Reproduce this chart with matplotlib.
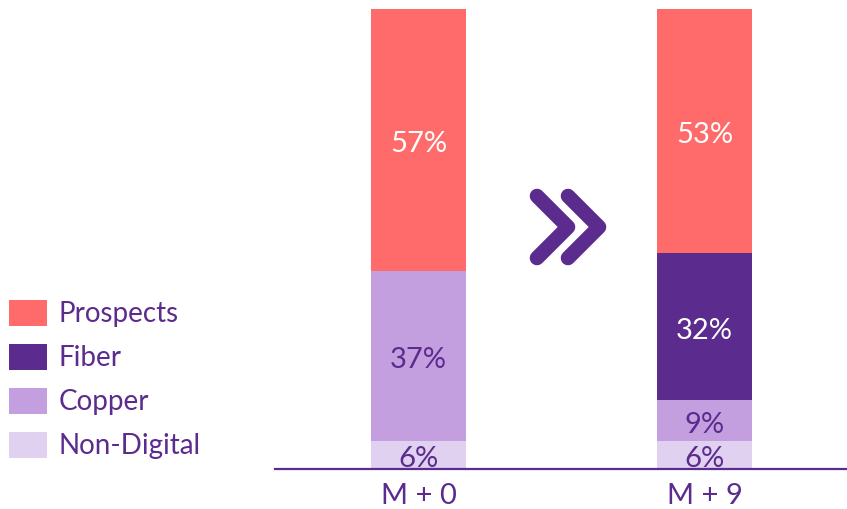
import matplotlib
matplotlib.use('Agg')
from matplotlib import pyplot as plt
from matplotlib.patches import Patch
from matplotlib.lines import Line2D
import numpy as np

plt.rcParams['font.family'] = ['Lato', 'DejaVu Sans']

categories = ['M + 0', 'M + 9']
series = ['Non-Digital', 'Copper', 'Fiber', 'Prospects']
values = {
    'Non-Digital': [6, 6],
    'Copper': [37, 9],
    'Fiber': [0, 32],
    'Prospects': [57, 53],
}
colors = {
    'Prospects': '#FF6B6B',
    'Fiber': '#5B2B8E',
    'Copper': '#C49FE0',
    'Non-Digital': '#DFD1EF',
}
text_colors = {
    'Prospects': 'white',
    'Fiber': 'white',
    'Copper': '#5B2B8E',
    'Non-Digital': '#5B2B8E',
}
purple = '#5B2B8E'

W, H = 847, 509
fig = plt.figure(figsize=(W / 100, H / 100), dpi=100)
# axes placed in pixel terms: baseline at y=469, 100% at y=9, from x=275 to right edge
ax = fig.add_axes([275 / W, (H - 469) / H, (W - 275) / W, 460 / H])

x = np.arange(len(categories))
width = 0.332
bottom = np.zeros(len(categories))
for name in series:
    vals = np.array(values[name], dtype=float)
    ax.bar(x, vals, width, bottom=bottom, color=colors[name], linewidth=0)
    for xi, v, b in zip(x, vals, bottom):
        if v > 0:
            ax.annotate(f'{int(v)}%', (xi, b + v / 2), xytext=(0, -3),
                        textcoords='offset points', ha='center', va='center',
                        fontsize=21, color=text_colors[name])
    bottom += vals

ax.set_xlim(-0.502, 1.498)
ax.set_ylim(0, 100)
for s in ['top', 'right', 'left']:
    ax.spines[s].set_visible(False)
ax.spines['bottom'].set_color(purple)
ax.spines['bottom'].set_linewidth(1.6)
ax.set_yticks([])
ax.set_xticks(x)
ax.set_xticklabels(categories, fontsize=21, color=purple)
ax.tick_params(axis='x', length=0, pad=10)

# legend, top entry first
handles = [Patch(facecolor=colors[n], edgecolor='none', label=n) for n in series[::-1]]
leg = fig.legend(handles=handles, loc='upper left', bbox_to_anchor=(-2 / W, 1 - 289 / H),
                 frameon=False, fontsize=20, handlelength=1.37, handleheight=1.04,
                 handletextpad=0.4, labelspacing=0.6, borderaxespad=0)
for t in leg.get_texts():
    t.set_color(purple)

# double chevron between bars
def px(xp, yp):
    return xp / W, 1 - yp / H

for dx in [0, 31]:
    pts = [px(537 + dx, 196), px(568 + dx, 227), px(537 + dx, 258)]
    fig.add_artist(Line2D([p[0] for p in pts], [p[1] for p in pts], color=purple,
                          linewidth=10.5, solid_capstyle='round', solid_joinstyle='round',
                          transform=fig.transFigure))

fig.savefig('out.png', dpi=100)
